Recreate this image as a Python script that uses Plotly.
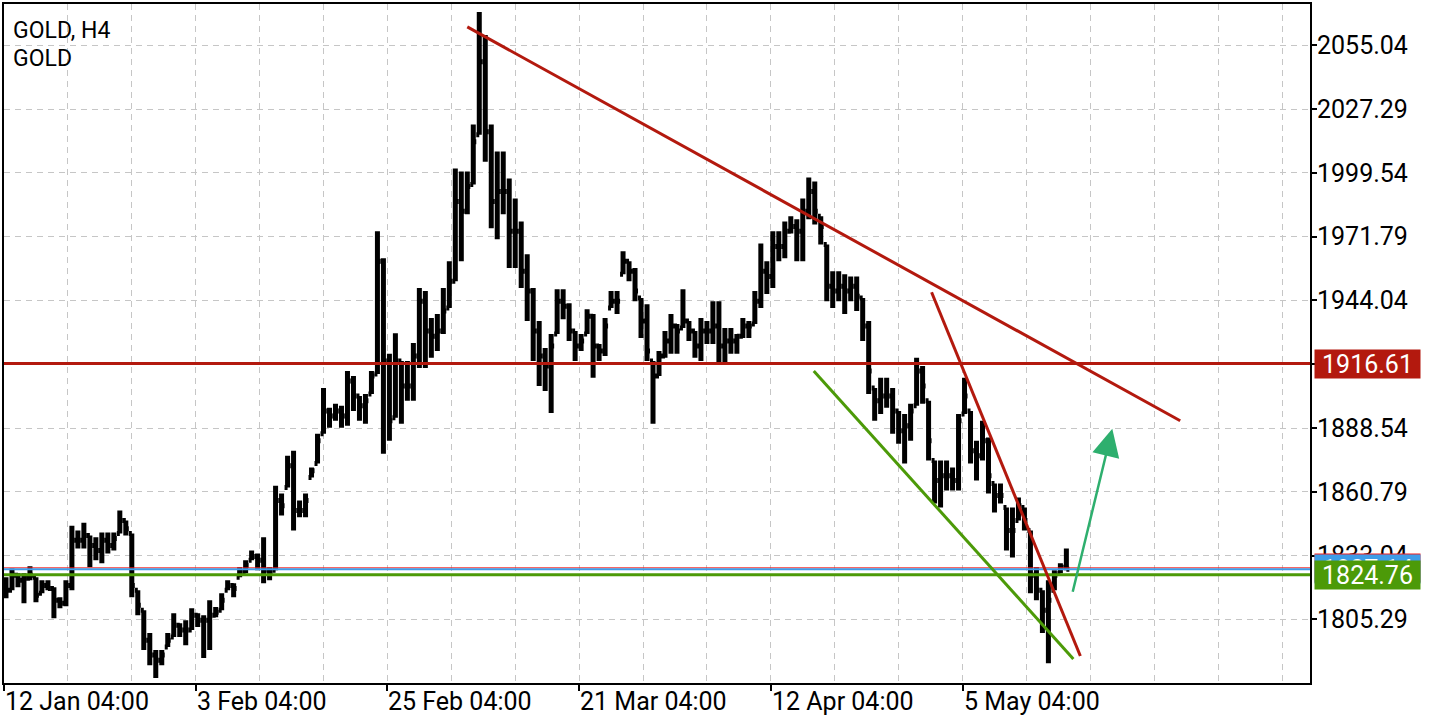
import plotly.graph_objects as go

# ---------------- data (GOLD, H4; each entry = 3 consecutive H4 bars) ----------------
title_lines = ["GOLD, H4", "GOLD"]

high = [1823.7, 1827.5, 1825.4, 1825.4, 1828.4, 1823.7, 1822.3, 1822.3, 1819.3, 1815.0,
        1822.3, 1846.1, 1844.0, 1847.4, 1841.8, 1841.0, 1843.1, 1843.1, 1843.1, 1852.7,
        1848.3, 1842.7, 1818.0, 1809.3, 1799.4, 1792.0, 1792.0, 1799.4, 1808.0, 1803.7,
        1805.0, 1810.2, 1808.0, 1807.1, 1813.7, 1810.7, 1816.7, 1822.3, 1821.0, 1828.0,
        1831.0, 1835.3, 1834.0, 1841.0, 1828.0, 1863.5, 1860.1, 1876.5, 1878.7, 1857.0,
        1860.1, 1871.4, 1886.1, 1906.0, 1897.4, 1899.1, 1898.2, 1913.4, 1911.2, 1902.5,
        1903.4, 1913.4, 1974.1, 1962.4, 1920.8, 1929.8, 1917.7, 1917.7, 1925.5, 1949.4,
        1948.1, 1936.4, 1938.1, 1949.4, 1961.1, 2001.4, 2000.1, 2000.1, 2020.5, 2069.5,
        2059.5, 2020.5, 2008.8, 2008.8, 1997.1, 1988.4, 1978.4, 1964.1, 1949.4, 1935.1,
        1923.4, 1929.4, 1948.9, 1948.9, 1942.8, 1930.7, 1929.4, 1940.2, 1938.1, 1925.1,
        1936.4, 1948.1, 1948.1, 1965.4, 1961.1, 1958.1, 1945.1, 1942.4, 1917.7, 1922.1,
        1930.7, 1938.1, 1933.8, 1948.9, 1935.1, 1930.7, 1936.4, 1935.1, 1943.7, 1943.7,
        1932.1, 1932.1, 1929.4, 1936.4, 1935.1, 1948.1, 1968.8, 1961.1, 1974.1, 1974.1,
        1978.4, 1980.6, 1979.3, 1988.4, 1997.5, 1995.8, 1980.6, 1968.4, 1956.7, 1956.7,
        1955.4, 1954.5, 1954.5, 1945.1, 1935.1, 1906.0, 1910.4, 1910.4, 1906.0, 1896.0,
        1894.7, 1899.1, 1919.1, 1915.5, 1900.4, 1874.4, 1874.4, 1874.4, 1871.4, 1894.7,
        1910.4, 1896.0, 1883.0, 1891.7, 1884.4, 1864.4, 1864.4, 1854.0, 1854.0, 1858.3,
        1854.0, 1844.0, 1828.0, 1818.0, 1822.3, 1826.7, 1829.7, 1836.2]

low = [1814.5, 1818.0, 1819.3, 1812.4, 1822.3, 1812.8, 1816.7, 1818.0, 1805.8, 1810.2,
       1811.1, 1818.0, 1836.2, 1836.2, 1828.0, 1831.0, 1829.7, 1834.0, 1835.3, 1842.7,
       1841.8, 1815.0, 1807.1, 1792.0, 1785.4, 1779.8, 1785.4, 1793.3, 1797.7, 1797.7,
       1794.1, 1800.7, 1802.0, 1788.5, 1792.0, 1806.3, 1809.3, 1818.0, 1815.0, 1823.7,
       1825.4, 1831.0, 1826.7, 1821.0, 1822.3, 1826.7, 1850.5, 1862.7, 1844.0, 1849.7,
       1849.7, 1867.0, 1873.1, 1886.1, 1888.7, 1891.7, 1888.7, 1889.5, 1896.0, 1891.7,
       1890.4, 1903.4, 1912.1, 1877.4, 1883.0, 1893.0, 1890.4, 1900.4, 1900.4, 1914.7,
       1914.7, 1919.1, 1922.1, 1929.4, 1940.7, 1952.4, 1961.1, 1981.5, 1994.5, 2016.1,
       2004.4, 1975.4, 1970.6, 1981.5, 1958.1, 1958.1, 1949.4, 1935.1, 1917.7, 1906.8,
       1904.7, 1895.1, 1929.4, 1935.9, 1926.4, 1917.7, 1922.1, 1929.4, 1910.4, 1917.7,
       1919.9, 1940.7, 1938.1, 1955.4, 1952.4, 1943.7, 1927.7, 1917.7, 1890.4, 1911.2,
       1919.1, 1920.8, 1920.8, 1932.1, 1926.4, 1919.1, 1917.7, 1925.1, 1925.1, 1916.4,
       1916.4, 1920.8, 1920.8, 1927.7, 1927.7, 1933.8, 1940.7, 1946.8, 1949.4, 1961.1,
       1962.4, 1973.2, 1961.1, 1961.1, 1979.3, 1977.1, 1968.4, 1943.7, 1940.7, 1943.7,
       1938.1, 1943.7, 1939.4, 1926.4, 1903.4, 1891.7, 1894.7, 1897.4, 1886.1, 1881.7,
       1873.1, 1883.0, 1898.2, 1899.1, 1874.4, 1855.7, 1854.0, 1861.4, 1861.4, 1861.4,
       1894.7, 1873.1, 1865.7, 1874.4, 1860.1, 1851.8, 1855.7, 1835.3, 1832.3, 1848.3,
       1844.0, 1816.7, 1813.7, 1799.4, 1786.3, 1818.0, 1825.4, 1826.7]

close = [1818.0, 1824.5, 1822.3, 1823.2, 1824.5, 1815.8, 1820.1, 1818.8, 1813.7, 1812.4,
         1820.1, 1839.7, 1839.7, 1841.8, 1837.5, 1835.3, 1839.7, 1837.5, 1840.5, 1848.3,
         1844.8, 1820.1, 1811.5, 1796.3, 1789.8, 1787.6, 1789.8, 1796.3, 1802.8, 1800.7,
         1800.7, 1807.1, 1805.0, 1805.0, 1807.1, 1808.4, 1813.7, 1820.1, 1818.8, 1825.8,
         1828.8, 1832.7, 1831.0, 1826.7, 1825.8, 1857.0, 1854.8, 1872.2, 1852.7, 1852.7,
         1857.0, 1870.0, 1883.0, 1896.0, 1893.8, 1896.0, 1893.8, 1909.0, 1902.5, 1898.2,
         1900.4, 1911.2, 1961.1, 1917.7, 1891.7, 1917.7, 1906.8, 1906.8, 1919.9, 1943.7,
         1930.7, 1928.5, 1930.7, 1939.4, 1952.4, 1987.1, 1982.8, 1993.6, 2013.1, 2047.8,
         2017.4, 1987.1, 1991.4, 1991.4, 1974.1, 1974.1, 1956.7, 1948.1, 1930.7, 1919.9,
         1915.5, 1924.2, 1943.7, 1941.5, 1930.7, 1924.2, 1926.4, 1937.2, 1924.2, 1922.1,
         1932.9, 1943.7, 1943.7, 1961.1, 1956.7, 1948.1, 1935.1, 1922.1, 1911.2, 1919.9,
         1926.4, 1932.9, 1930.7, 1935.1, 1930.7, 1924.2, 1930.7, 1930.7, 1932.9, 1924.2,
         1926.4, 1926.4, 1928.5, 1932.9, 1932.9, 1943.7, 1956.7, 1954.5, 1967.5, 1967.5,
         1974.1, 1976.2, 1974.1, 1982.8, 1991.4, 1982.8, 1976.2, 1950.2, 1948.1, 1950.2,
         1948.1, 1950.2, 1945.9, 1932.9, 1913.4, 1900.4, 1902.5, 1902.5, 1896.0, 1887.4,
         1889.5, 1896.0, 1913.4, 1906.8, 1883.0, 1865.7, 1867.8, 1867.8, 1865.7, 1891.7,
         1902.5, 1878.7, 1876.5, 1883.0, 1867.8, 1859.2, 1859.2, 1844.0, 1844.0, 1854.8,
         1848.3, 1824.5, 1818.0, 1809.3, 1813.7, 1824.5, 1828.0, 1827.1]

# time axis: H4 bar index (0 = 12 Jan 04:00)
date_ticks = [0, 96, 192, 288, 384, 480]
date_labels = ["12 Jan 04:00", "3 Feb 04:00", "25 Feb 04:00",
               "21 Mar 04:00", "12 Apr 04:00", "5 May 04:00"]
grid_bars = [32, 64, 128, 160, 224, 256, 320, 352, 416, 448, 512, 544,
             576, 608, 640]

price_ticks = [1805.29, 1833.04, 1860.79, 1888.54, 1916.29,
               1944.04, 1971.79, 1999.54, 2027.29, 2055.04]
price_labels = ["1805.29", "1833.04", "1860.79", "1888.54", "",
                "1944.04", "1971.79", "1999.54", "2027.29", "2055.04"]

# horizontal levels
resistance = 1916.61
support = 1824.76
ask_price = 1827.75
bid_price = 1827.14

# drawn objects (bar index, price)
trend_main_x, trend_main_y = [232, 589], [2063.0, 1891.7]
trend_steep_x, trend_steep_y = [464.5, 539], [1947.6, 1789.4]
channel_x, channel_y = [405.5, 535.5], [1913.4, 1788.1]
arrow_x, arrow_y = [535, 555], [1816.7, 1888.2]

# ---------------- styling ----------------
RED = "#B3190E"
GREEN = "#4C9A08"
BLUE = "#3E9CE8"
ASK_RED = "#F21D1D"
ARROW = "#2EAF6E"
GRID = "#C6C6C6"
FONT = "Roboto"

bar_x = [1 + 3 * k for k in range(len(close))]
open_ = []
prev = close[0]
for h, l, c in zip(high, low, close):
    open_.append(min(max(prev, l), h))
    prev = c

fig = go.Figure()
fig.add_trace(go.Ohlc(
    x=bar_x, open=open_, high=high, low=low, close=close,
    increasing=dict(line=dict(color="black", width=5)),
    decreasing=dict(line=dict(color="black", width=5)),
    tickwidth=0.5, hoverinfo="skip", showlegend=False,
))

shapes = []
shapes.append(dict(type="line", xref="paper", x0=0, x1=1, yref="y", y0=ask_price, y1=ask_price,
                   line=dict(color=ASK_RED, width=1)))
shapes.append(dict(type="line", xref="paper", x0=0, x1=1, yref="y", y0=bid_price, y1=bid_price,
                   line=dict(color=BLUE, width=2)))
shapes.append(dict(type="line", xref="paper", x0=0, x1=1, yref="y", y0=support, y1=support,
                   line=dict(color=GREEN, width=3)))
shapes.append(dict(type="line", xref="paper", x0=0, x1=1, yref="y", y0=resistance, y1=resistance,
                   line=dict(color=RED, width=3)))
for xs, ys, col in [(trend_main_x, trend_main_y, RED),
                    (trend_steep_x, trend_steep_y, RED),
                    (channel_x, channel_y, GREEN)]:
    shapes.append(dict(type="line", xref="x", yref="y", x0=xs[0], y0=ys[0], x1=xs[1], y1=ys[1],
                       line=dict(color=col, width=3)))

annotations = []
for i, line in enumerate(title_lines):
    annotations.append(dict(xref="paper", yref="paper", x=0, y=1, xanchor="left", yanchor="middle",
                            xshift=7, yshift=-(26 + 28 * i), showarrow=False, align="left",
                            text=line, font=dict(family=FONT, size=23, color="black")))
for xv, lab in zip(date_ticks, date_labels):
    annotations.append(dict(xref="x", yref="paper", x=xv, y=0, xanchor="left", yanchor="top",
                            xshift=-1, yshift=-2, showarrow=False, text=lab,
                            font=dict(family=FONT, size=25, color="black")))
for price, txt, col in [(ask_price, f"{ask_price:.2f}", ASK_RED),
                        (bid_price, f"{bid_price:.2f}", BLUE),
                        (support, f"{support:.2f}", GREEN),
                        (resistance, f"{resistance:.2f}", RED)]:
    annotations.append(dict(xref="paper", yref="y", x=1, y=price, xanchor="left", yanchor="middle",
                            xshift=4, showarrow=False, text=txt, bgcolor=col,
                            width=105, height=28, borderpad=0, align="center", valign="middle",
                            font=dict(family=FONT, size=25, color="white")))
annotations.append(dict(xref="x", yref="y", axref="x", ayref="y",
                        x=arrow_x[1], y=arrow_y[1], ax=arrow_x[0], ay=arrow_y[0],
                        showarrow=True, arrowhead=2, arrowsize=2.2, arrowwidth=2.5,
                        arrowcolor=ARROW, standoff=0, text=""))

fig.update_layout(
    width=1440, height=720,
    margin=dict(l=2, r=130, t=2, b=37, pad=0),
    paper_bgcolor="white", plot_bgcolor="white",
    showlegend=False,
    font=dict(family=FONT, size=25, color="black"),
    shapes=shapes, annotations=annotations,
    xaxis=dict(range=[0, 654], tickmode="array", tickvals=date_ticks,
               ticktext=[""] * len(date_ticks), ticks="outside", ticklen=6, tickwidth=2,
               tickcolor="black", showline=True, linewidth=2, linecolor="black", mirror=True,
               showgrid=True, gridcolor=GRID, gridwidth=1, griddash="6px,5px", zeroline=False,
               rangeslider=dict(visible=False),
               minor=dict(tickvals=grid_bars, showgrid=True, gridcolor=GRID, gridwidth=1,
                          griddash="6px,5px", ticks="")),
    yaxis=dict(side="right", range=[1777.67, 2072.95], tickmode="array", tickvals=price_ticks,
               ticktext=price_labels, ticks="outside", ticklen=5, tickwidth=2, tickcolor="black",
               ticklabelstandoff=-5,
               showline=True, linewidth=2, linecolor="black", mirror=True,
               showgrid=True, gridcolor=GRID, gridwidth=1, griddash="6px,5px", zeroline=False,
               tickfont=dict(family=FONT, size=25, color="black")),
)

fig.write_html("out.html", config={"displayModeBar": False},
               post_script="document.body.style.margin='0px';document.body.style.overflow='hidden';")
